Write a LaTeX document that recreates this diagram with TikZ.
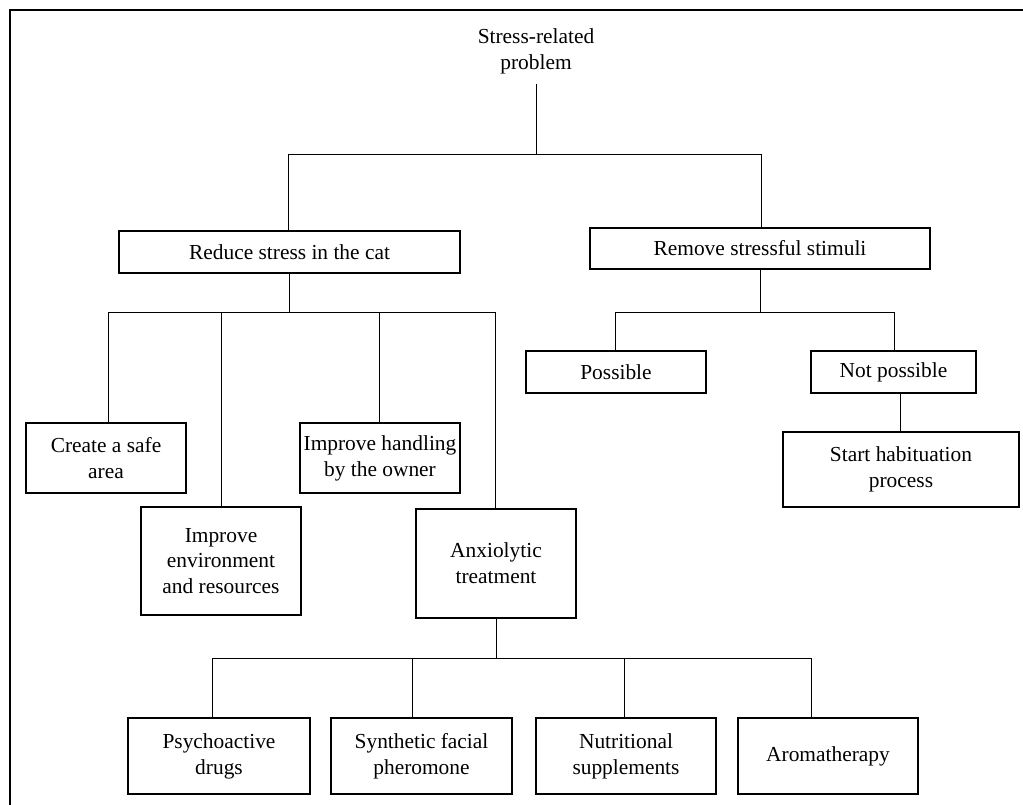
\documentclass[tikz,border=0pt]{standalone}
\usepackage{fontspec}
\setmainfont{Liberation Serif}
\begin{document}
\begin{tikzpicture}[x=1pt,y=-1pt,
  every node/.style={font=\fontsize{21.4}{25.8}\selectfont, align=center},
  box/.style={draw, line width=1.3pt, inner sep=0pt},
  conn/.style={line width=0.9pt}]
\useasboundingbox (0,0) rectangle (1023,805);
% frame
\draw[line width=1.4pt] (10,830) -- (10,10) -- (1040,10);
% nodes
\node[inner sep=10pt] (top) at (536,51) {Stress-related\\problem};
\node[box, minimum width=341pt, minimum height=42pt] (reduce) at (289.5,252) {Reduce stress in the cat};
\node[box, minimum width=340pt, minimum height=41pt] (remove) at (760,248.5) {Remove stressful stimuli};
\node[box, minimum width=180pt, minimum height=42pt] (poss) at (616,372) {Possible};
\node[box, minimum width=165pt, minimum height=42pt] (notposs) at (893.5,372) {Not possible};
\node[box, minimum width=236pt, minimum height=75pt] (start) at (901,469.5) {Start habituation\\process};
\node[box, minimum width=160pt, minimum height=70pt] (safe) at (106,458) {Create a safe\\area};
\node[box, minimum width=160pt, minimum height=70pt] (handling) at (380,458) {Improve handling\\by the owner};
\node[box, minimum width=160pt, minimum height=108pt] (env) at (221,561) {Improve\\environment\\and resources};
\node[box, minimum width=160pt, minimum height=109pt] (anx) at (496,563.5) {Anxiolytic\\treatment};
\node[box, minimum width=182pt, minimum height=76pt] (psycho) at (219,756) {Psychoactive\\drugs};
\node[box, minimum width=181pt, minimum height=76pt] (synth) at (421.5,756) {Synthetic facial\\pheromone};
\node[box, minimum width=180pt, minimum height=76pt] (nutri) at (626,756) {Nutritional\\supplements};
\node[box, minimum width=180pt, minimum height=76pt] (aroma) at (828,756) {Aromatherapy};
% junction coordinates
\coordinate (a1) at (288,154);
\coordinate (a2) at (761,154);
\coordinate (b1) at (108,312);
\coordinate (b2) at (221,312);
\coordinate (b3) at (379,312);
\coordinate (b4) at (495,312);
\coordinate (c1) at (615,312);
\coordinate (c2) at (894,312);
\coordinate (d0) at (900,0);
\coordinate (e1) at (212,658);
\coordinate (e2) at (412,658);
\coordinate (e3) at (624,658);
\coordinate (e4) at (811,658);
% connectors
\draw[conn] (top.south) -- (top.south |- a1);
\draw[conn] (a1) -- (a2);
\draw[conn] (a1) -- (a1 |- reduce.north);
\draw[conn] (a2) -- (a2 |- remove.north);
\draw[conn] (reduce.south) -- (reduce.south |- b1);
\draw[conn] (b1) -- (b4);
\draw[conn] (b1) -- (b1 |- safe.north);
\draw[conn] (b2) -- (b2 |- env.north);
\draw[conn] (b3) -- (b3 |- handling.north);
\draw[conn] (b4) -- (b4 |- anx.north);
\draw[conn] (remove.south) -- (remove.south |- c1);
\draw[conn] (c1) -- (c2);
\draw[conn] (c1) -- (c1 |- poss.north);
\draw[conn] (c2) -- (c2 |- notposs.north);
\draw[conn] (d0 |- notposs.south) -- (d0 |- start.north);
\draw[conn] (anx.south) -- (anx.south |- e1);
\draw[conn] (e1) -- (e4);
\draw[conn] (e1) -- (e1 |- psycho.north);
\draw[conn] (e2) -- (e2 |- synth.north);
\draw[conn] (e3) -- (e3 |- nutri.north);
\draw[conn] (e4) -- (e4 |- aroma.north);
\end{tikzpicture}
\end{document}
